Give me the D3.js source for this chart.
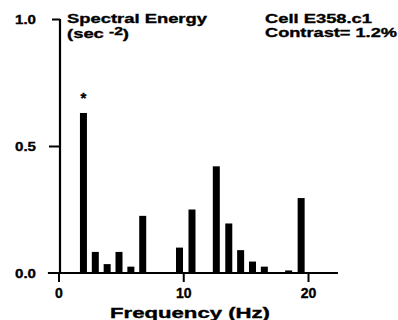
<!DOCTYPE html>
<html>
<head>
<meta charset="utf-8">
<script src="https://cdn.jsdelivr.net/npm/d3@7"></script>
<style>
  body { margin: 0; background: #fff; }
  svg text { font-family: "Liberation Sans", Arial, sans-serif; font-weight: bold; fill: #000; stroke: #000; stroke-width: 0.35px; }
</style>
</head>
<body>
<svg id="chart"></svg>
<script>
// spectral energy per frequency component (Hz, sec^-2)
const freqs  = [2.0, 2.95, 3.9, 4.85, 5.8, 6.75, 9.7, 10.7, 12.65, 13.65, 14.6, 15.55, 16.5, 18.45, 19.45];
const energy = [0.63, 0.083, 0.035, 0.083, 0.025, 0.225, 0.10, 0.25, 0.42, 0.195, 0.09, 0.045, 0.025, 0.01, 0.295];
const starAt = 2.0;               // significant peak marked with *
const xTicks = [0, 10, 20];
const yTicks = [0, 0.5, 1];

const w = 398, h = 320;
const svg = d3.select('#chart').attr('width', w).attr('height', h);

const x = d3.scaleLinear().domain([0, 20]).range([58.5, 308]);
const y = d3.scaleLinear().domain([0, 1]).range([273, 19]);

// bars
svg.selectAll('rect.bar')
  .data(freqs)
  .enter()
  .append('rect')
  .attr('class', 'bar')
  .attr('x', (d) => x(d) - 3.5)
  .attr('y', (d, i) => y(energy[i]))
  .attr('width', 7)
  .attr('height', (d, i) => y(0) - y(energy[i]))
  .attr('fill', '#000');

// asterisk over the big peak
svg.append('text')
  .attr('x', x(starAt))
  .attr('y', y(0.63) - 10)
  .attr('text-anchor', 'middle')
  .style('font-size', '15px')
  .text('*');

// y axis
const yAxis = d3.axisLeft(y)
  .tickValues(yTicks)
  .tickSize(11)
  .tickPadding(13)
  .tickFormat(d3.format('.1f'));

const yAxisGroup = svg.append('g')
  .attr('transform', `translate(${x(0) + 1.5},0)`)
  .call(yAxis);
yAxisGroup.select('.domain').remove();
yAxisGroup.selectAll('line').attr('stroke', '#000').attr('stroke-width', 2);
yAxisGroup.selectAll('.tick').filter((d) => d === 0).select('line').remove();
yAxisGroup.selectAll('.tick').filter((d) => d === 1).select('line').attr('x2', -8);
yAxisGroup.selectAll('text')
  .style('font-size', '13px')
  .attr('textLength', 21)
  .attr('lengthAdjust', 'spacingAndGlyphs');
yAxisGroup.append('line')
  .attr('y1', y(1)).attr('y2', y(0))
  .attr('stroke', '#000').attr('stroke-width', 2.2);

// x axis
const xAxis = d3.axisBottom(x)
  .tickValues(xTicks)
  .tickSize(9)
  .tickPadding(6);

const xAxisGroup = svg.append('g')
  .attr('transform', `translate(0,${y(0)})`)
  .call(xAxis);
xAxisGroup.select('.domain').remove();
xAxisGroup.selectAll('line').attr('stroke', '#000').attr('stroke-width', 2);
xAxisGroup.selectAll('text').style('font-size', '14px');
xAxisGroup.append('line')
  .attr('x1', x(-0.85)).attr('x2', x(22.4))
  .attr('stroke', '#000').attr('stroke-width', 2);

// axis title
svg.append('text')
  .attr('x', 110).attr('y', 318)
  .attr('textLength', 160)
  .attr('lengthAdjust', 'spacingAndGlyphs')
  .style('font-size', '14px')
  .text('Frequency (Hz)');

// y title
svg.append('text')
  .attr('x', 67).attr('y', 23)
  .attr('textLength', 140)
  .attr('lengthAdjust', 'spacingAndGlyphs')
  .style('font-size', '13px')
  .text('Spectral Energy');

const unit = svg.append('text')
  .attr('x', 67).attr('y', 38)
  .attr('textLength', 62)
  .attr('lengthAdjust', 'spacingAndGlyphs')
  .style('font-size', '13px');
unit.append('tspan').text('(sec ');
unit.append('tspan').attr('dy', -3).style('font-size', '11px').text('-2');
unit.append('tspan').attr('dy', 3).text(')');

// cell info
svg.append('text')
  .attr('x', 265).attr('y', 23)
  .attr('textLength', 107)
  .attr('lengthAdjust', 'spacingAndGlyphs')
  .style('font-size', '13px')
  .text('Cell E358.c1');

svg.append('text')
  .attr('x', 265).attr('y', 37)
  .attr('textLength', 132)
  .attr('lengthAdjust', 'spacingAndGlyphs')
  .style('font-size', '13px')
  .text('Contrast= 1.2%');
</script>
</body>
</html>
